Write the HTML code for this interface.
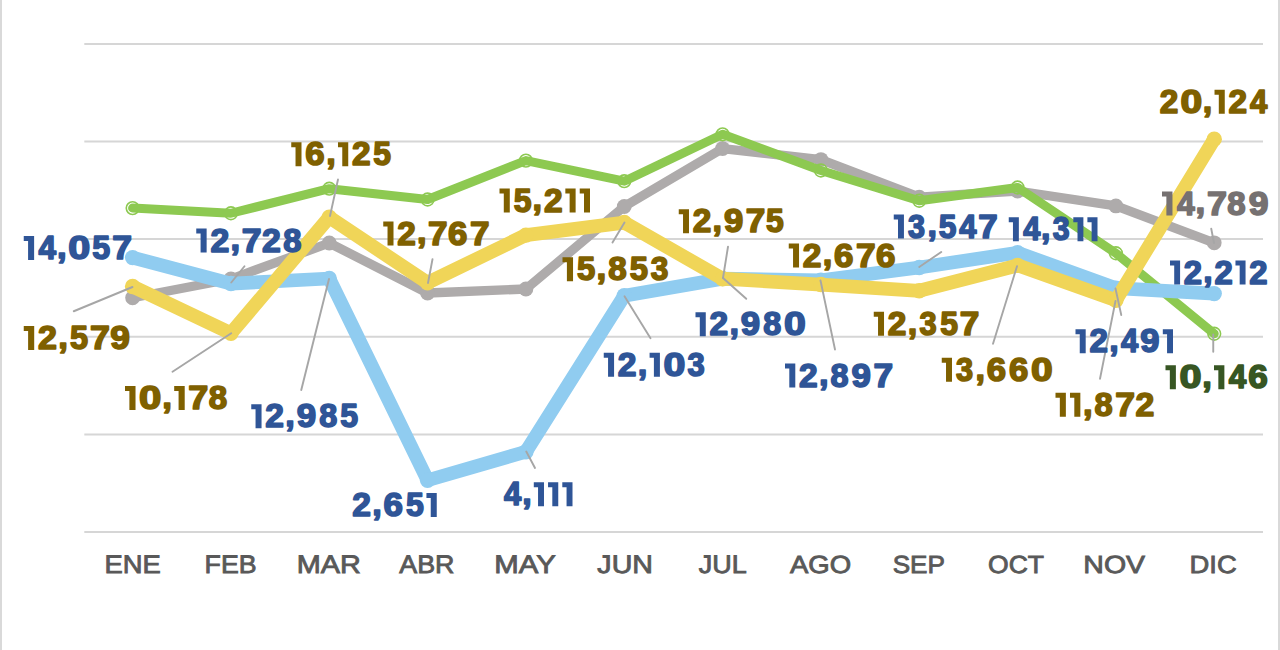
<!DOCTYPE html>
<html><head><meta charset="utf-8"><title>Chart</title>
<style>
html,body{margin:0;padding:0;background:#fff;}
body{width:1280px;height:650px;overflow:hidden;position:relative;font-family:"Liberation Sans",sans-serif;}
#bl,#br{position:absolute;top:0;width:2px;height:650px;background:#d9d9d9;}
#bl{left:0}#br{left:1278px}
svg{position:absolute;left:0;top:0;}
text{font-family:"Liberation Sans",sans-serif;}
.dl{font-weight:bold;}
</style></head><body>
<div id="bl"></div><div id="br"></div>
<svg width="1280" height="650" viewBox="0 0 1280 650">
<g stroke="#d6d6d6" stroke-width="2">
<line x1="84.3" y1="43.9" x2="1263.0" y2="43.9"/>
<line x1="84.3" y1="141.5" x2="1263.0" y2="141.5"/>
<line x1="84.3" y1="239.1" x2="1263.0" y2="239.1"/>
<line x1="84.3" y1="336.8" x2="1263.0" y2="336.8"/>
<line x1="84.3" y1="434.4" x2="1263.0" y2="434.4"/>
<line x1="84.3" y1="532.0" x2="1263.0" y2="532.0"/>
</g>
<g id="grey"><polyline points="132.60,297.80 230.93,279.00 329.26,243.00 427.59,293.00 525.92,289.00 624.25,206.50 722.58,148.60 820.91,159.60 919.24,197.20 1017.57,191.00 1115.90,205.90 1214.23,242.80" fill="none" stroke="#aeabab" stroke-width="9.3" stroke-linejoin="round" stroke-linecap="round"/>
<circle cx="132.60" cy="297.80" r="7.4" fill="#aeabab"/>
<circle cx="230.93" cy="279.00" r="7.4" fill="#aeabab"/>
<circle cx="329.26" cy="243.00" r="7.4" fill="#aeabab"/>
<circle cx="427.59" cy="293.00" r="7.4" fill="#aeabab"/>
<circle cx="525.92" cy="289.00" r="7.4" fill="#aeabab"/>
<circle cx="624.25" cy="206.50" r="7.4" fill="#aeabab"/>
<circle cx="722.58" cy="148.60" r="7.4" fill="#aeabab"/>
<circle cx="820.91" cy="159.60" r="7.4" fill="#aeabab"/>
<circle cx="919.24" cy="197.20" r="7.4" fill="#aeabab"/>
<circle cx="1017.57" cy="191.00" r="7.4" fill="#aeabab"/>
<circle cx="1115.90" cy="205.90" r="7.4" fill="#aeabab"/>
<circle cx="1214.23" cy="242.80" r="7.4" fill="#aeabab"/>
</g>
<g id="green">
<circle cx="132.60" cy="208.10" r="6.35" fill="none" stroke="#8dc951" stroke-width="1.6"/>
<circle cx="230.93" cy="213.25" r="6.35" fill="none" stroke="#8dc951" stroke-width="1.6"/>
<circle cx="329.26" cy="188.70" r="6.35" fill="none" stroke="#8dc951" stroke-width="1.6"/>
<circle cx="427.59" cy="199.50" r="6.35" fill="none" stroke="#8dc951" stroke-width="1.6"/>
<circle cx="525.92" cy="160.60" r="6.35" fill="none" stroke="#8dc951" stroke-width="1.6"/>
<circle cx="624.25" cy="181.20" r="6.35" fill="none" stroke="#8dc951" stroke-width="1.6"/>
<circle cx="722.58" cy="134.30" r="6.35" fill="none" stroke="#8dc951" stroke-width="1.6"/>
<circle cx="820.91" cy="170.50" r="6.35" fill="none" stroke="#8dc951" stroke-width="1.6"/>
<circle cx="919.24" cy="200.75" r="6.35" fill="none" stroke="#8dc951" stroke-width="1.6"/>
<circle cx="1017.57" cy="187.50" r="6.35" fill="none" stroke="#8dc951" stroke-width="1.6"/>
<circle cx="1115.90" cy="253.25" r="6.35" fill="none" stroke="#8dc951" stroke-width="1.6"/>
<circle cx="1214.23" cy="333.75" r="6.35" fill="none" stroke="#8dc951" stroke-width="1.6"/>
<polyline points="132.60,208.10 230.93,213.25 329.26,188.70 427.59,199.50 525.92,160.60 624.25,181.20 722.58,134.30 820.91,170.50 919.24,200.75 1017.57,187.50 1115.90,253.25 1214.23,333.75" fill="none" stroke="#8dc951" stroke-width="9.0" stroke-linejoin="round" stroke-linecap="round"/>
</g>
<g id="blue"><polyline points="132.60,257.61 230.93,283.55 329.26,278.53 427.59,480.25 525.92,451.75 624.25,295.75 722.58,278.63 820.91,280.25 919.24,267.56 1017.57,252.65 1115.90,288.18 1214.23,293.62" fill="none" stroke="#90ccf0" stroke-width="13.7" stroke-linejoin="round" stroke-linecap="round"/>
<circle cx="132.60" cy="257.61" r="7.7" fill="#90ccf0"/>
<circle cx="230.93" cy="283.55" r="7.7" fill="#90ccf0"/>
<circle cx="329.26" cy="278.53" r="7.7" fill="#90ccf0"/>
<circle cx="427.59" cy="480.25" r="7.7" fill="#90ccf0"/>
<circle cx="525.92" cy="451.75" r="7.7" fill="#90ccf0"/>
<circle cx="624.25" cy="295.75" r="7.7" fill="#90ccf0"/>
<circle cx="722.58" cy="278.63" r="7.7" fill="#90ccf0"/>
<circle cx="820.91" cy="280.25" r="7.7" fill="#90ccf0"/>
<circle cx="919.24" cy="267.56" r="7.7" fill="#90ccf0"/>
<circle cx="1017.57" cy="252.65" r="7.7" fill="#90ccf0"/>
<circle cx="1115.90" cy="288.18" r="7.7" fill="#90ccf0"/>
<circle cx="1214.23" cy="293.62" r="7.7" fill="#90ccf0"/>
</g>
<g id="yellow"><polyline points="132.60,286.46 230.93,333.33 329.26,217.24 427.59,282.79 525.92,235.08 624.25,222.55 722.58,278.73 820.91,284.56 919.24,290.79 1017.57,265.36 1115.90,300.26 1214.23,139.18" fill="none" stroke="#f0d558" stroke-width="13.8" stroke-linejoin="round" stroke-linecap="round"/>
<circle cx="132.60" cy="286.46" r="7.7" fill="#f0d558"/>
<circle cx="230.93" cy="333.33" r="7.7" fill="#f0d558"/>
<circle cx="329.26" cy="217.24" r="7.7" fill="#f0d558"/>
<circle cx="427.59" cy="282.79" r="7.7" fill="#f0d558"/>
<circle cx="525.92" cy="235.08" r="7.7" fill="#f0d558"/>
<circle cx="624.25" cy="222.55" r="7.7" fill="#f0d558"/>
<circle cx="722.58" cy="278.73" r="7.7" fill="#f0d558"/>
<circle cx="820.91" cy="284.56" r="7.7" fill="#f0d558"/>
<circle cx="919.24" cy="290.79" r="7.7" fill="#f0d558"/>
<circle cx="1017.57" cy="265.36" r="7.7" fill="#f0d558"/>
<circle cx="1115.90" cy="300.26" r="7.7" fill="#f0d558"/>
<circle cx="1214.23" cy="139.18" r="7.7" fill="#f0d558"/>
</g>
<g id="leaders" stroke="#a6a6a6" stroke-width="1.9" stroke-linecap="round">
<line x1="73.75" y1="311.25" x2="132.5" y2="287"/>
<line x1="244.5" y1="266.25" x2="231.25" y2="282.5"/>
<line x1="172.5" y1="371.75" x2="231.25" y2="333.25"/>
<line x1="301.25" y1="390" x2="329" y2="279"/>
<line x1="338" y1="179.5" x2="330" y2="216"/>
<line x1="432.5" y1="259.25" x2="428" y2="283"/>
<line x1="612.5" y1="242.5" x2="624.5" y2="222.5"/>
<line x1="624.5" y1="296.25" x2="650.5" y2="338.25"/>
<line x1="526.25" y1="451.5" x2="535" y2="468"/>
<line x1="728" y1="246.75" x2="723" y2="278"/>
<line x1="723" y1="278" x2="746.25" y2="298.75"/>
<line x1="820.5" y1="280.5" x2="835" y2="349.5"/>
<line x1="941.25" y1="252" x2="919.25" y2="267"/>
<line x1="1017" y1="266.25" x2="993" y2="343.75"/>
<line x1="1115.5" y1="288.5" x2="1121.25" y2="315"/>
<line x1="1115.5" y1="301" x2="1100" y2="378.75"/>
<line x1="1211.25" y1="228.75" x2="1214" y2="243"/>
<line x1="1213.25" y1="334.5" x2="1213.25" y2="351.75"/>
</g>
<g id="labels" class="dl" stroke-width="1.6" stroke-linejoin="round" font-size="32.6">
<g id="L0" fill="#2f5597" stroke="#2f5597"><path stroke="none" d="M23.75 236.00H34.12V260.00H28.08V240.90H23.75Z"/><text transform="translate(38.55,259.20) scale(0.9668,1)">4</text><text transform="translate(56.99,257.90) scale(1.0610,1)">,</text><text transform="translate(68.22,259.20) scale(1.2129,1)">0</text><text transform="translate(92.28,259.20) scale(0.9889,1)">5</text><text transform="translate(112.17,259.20) scale(1.0906,1)">7</text></g>
<g id="L1" fill="#2f5597" stroke="#2f5597"><path stroke="none" d="M196.25 228.50H206.63V252.50H200.59V233.40H196.25Z"/><text transform="translate(210.42,251.70) scale(1.0376,1)">2</text><text transform="translate(230.54,250.40) scale(1.0622,1)">,</text><text transform="translate(241.72,251.70) scale(1.0919,1)">7</text><text transform="translate(261.89,251.70) scale(1.0376,1)">2</text><text transform="translate(283.27,251.70) scale(1.0029,1)">8</text></g>
<g id="L2" fill="#2f5597" stroke="#2f5597"><path stroke="none" d="M251.25 404.25H261.55V428.25H255.55V409.15H251.25Z"/><text transform="translate(265.31,427.45) scale(1.0292,1)">2</text><text transform="translate(285.26,426.15) scale(1.0536,1)">,</text><text transform="translate(296.65,427.45) scale(1.0695,1)">9</text><text transform="translate(319.17,427.45) scale(0.9947,1)">8</text><text transform="translate(340.30,427.45) scale(0.9820,1)">5</text></g>
<g id="L3" fill="#2f5597" stroke="#2f5597"><text transform="translate(352.16,516.20) scale(1.0304,1)">2</text><text transform="translate(372.13,514.90) scale(1.0549,1)">,</text><text transform="translate(383.46,516.20) scale(1.0728,1)">6</text><text transform="translate(406.01,516.20) scale(0.9832,1)">5</text><path stroke="none" d="M426.44 493.00H436.75V517.00H430.74V497.90H426.44Z"/></g>
<g id="L4" fill="#2f5597" stroke="#2f5597"><text transform="translate(504.04,505.45) scale(0.9503,1)">4</text><text transform="translate(522.17,504.15) scale(1.0430,1)">,</text><path stroke="none" d="M533.79 482.25H543.99V506.25H538.05V487.15H533.79Z"/><path stroke="none" d="M548.05 482.25H558.25V506.25H552.31V487.15H548.05Z"/><path stroke="none" d="M562.30 482.25H572.50V506.25H566.56V487.15H562.30Z"/></g>
<g id="L5" fill="#2f5597" stroke="#2f5597"><path stroke="none" d="M603.75 352.75H614.07V376.75H608.06V357.65H603.75Z"/><text transform="translate(617.84,375.95) scale(1.0312,1)">2</text><text transform="translate(637.83,374.65) scale(1.0557,1)">,</text><path stroke="none" d="M649.59 352.75H659.91V376.75H653.90V357.65H649.59Z"/><text transform="translate(663.43,375.95) scale(1.2068,1)">0</text><text transform="translate(687.62,375.95) scale(0.9511,1)">3</text></g>
<g id="L6" fill="#2f5597" stroke="#2f5597"><path stroke="none" d="M695.50 312.25H705.77V336.25H699.79V317.15H695.50Z"/><text transform="translate(709.52,335.45) scale(1.0259,1)">2</text><text transform="translate(729.40,334.15) scale(1.0503,1)">,</text><text transform="translate(740.75,335.45) scale(1.0661,1)">9</text><text transform="translate(763.20,335.45) scale(0.9916,1)">8</text><text transform="translate(783.88,335.45) scale(1.2006,1)">0</text></g>
<g id="L7" fill="#2f5597" stroke="#2f5597"><path stroke="none" d="M785.00 363.50H795.30V387.50H789.30V368.40H785.00Z"/><text transform="translate(799.05,386.70) scale(1.0287,1)">2</text><text transform="translate(819.00,385.40) scale(1.0532,1)">,</text><text transform="translate(830.50,386.70) scale(0.9943,1)">8</text><text transform="translate(851.47,386.70) scale(1.0690,1)">9</text><text transform="translate(873.56,386.70) scale(1.0825,1)">7</text></g>
<g id="L8" fill="#2f5597" stroke="#2f5597"><path stroke="none" d="M893.75 214.50H903.94V238.50H898.00V219.40H893.75Z"/><text transform="translate(908.05,237.70) scale(0.9392,1)">3</text><text transform="translate(927.40,236.40) scale(1.0425,1)">,</text><text transform="translate(938.82,237.70) scale(0.9717,1)">5</text><text transform="translate(959.30,237.70) scale(0.9499,1)">4</text><text transform="translate(978.25,237.70) scale(1.0716,1)">7</text></g>
<g id="L9" fill="#2f5597" stroke="#2f5597"><path stroke="none" d="M1008.75 217.25H1018.85V241.25H1012.96V222.15H1008.75Z"/><text transform="translate(1023.15,240.45) scale(0.9409,1)">4</text><text transform="translate(1041.11,239.15) scale(1.0327,1)">,</text><text transform="translate(1052.66,240.45) scale(0.9303,1)">3</text><path stroke="none" d="M1073.29 217.25H1083.39V241.25H1077.51V222.15H1073.29Z"/><path stroke="none" d="M1087.40 217.25H1097.50V241.25H1091.62V222.15H1087.40Z"/></g>
<g id="L10" fill="#2f5597" stroke="#2f5597"><path stroke="none" d="M1075.50 329.25H1085.69V353.25H1079.75V334.15H1075.50Z"/><text transform="translate(1089.41,352.45) scale(1.0182,1)">2</text><text transform="translate(1109.15,351.15) scale(1.0424,1)">,</text><text transform="translate(1121.05,352.45) scale(0.9498,1)">4</text><text transform="translate(1140.30,352.45) scale(1.0581,1)">9</text><path stroke="none" d="M1162.81 329.25H1173.00V353.25H1167.06V334.15H1162.81Z"/></g>
<g id="L11" fill="#2f5597" stroke="#2f5597"><path stroke="none" d="M1170.00 260.50H1180.09V284.50H1174.21V265.40H1170.00Z"/><text transform="translate(1183.77,283.70) scale(1.0079,1)">2</text><text transform="translate(1203.31,282.40) scale(1.0318,1)">,</text><text transform="translate(1214.47,283.70) scale(1.0079,1)">2</text><path stroke="none" d="M1235.47 260.50H1245.55V284.50H1239.68V265.40H1235.47Z"/><text transform="translate(1249.24,283.70) scale(1.0079,1)">2</text></g>
<g id="L12" fill="#7f6000" stroke="#7f6000"><path stroke="none" d="M23.75 326.00H34.20V350.00H28.11V330.90H23.75Z"/><text transform="translate(38.01,349.20) scale(1.0440,1)">2</text><text transform="translate(58.25,347.90) scale(1.0688,1)">,</text><text transform="translate(69.96,349.20) scale(0.9961,1)">5</text><text transform="translate(89.99,349.20) scale(1.0986,1)">7</text><text transform="translate(110.27,349.20) scale(1.0849,1)">9</text></g>
<g id="L13" fill="#7f6000" stroke="#7f6000"><path stroke="none" d="M125.00 386.00H135.52V410.00H129.39V390.90H125.00Z"/><text transform="translate(139.11,409.20) scale(1.2303,1)">0</text><text transform="translate(162.20,407.90) scale(1.0763,1)">,</text><path stroke="none" d="M174.19 386.00H184.71V410.00H178.58V390.90H174.19Z"/><text transform="translate(188.23,409.20) scale(1.1063,1)">7</text><text transform="translate(208.78,409.20) scale(1.0162,1)">8</text></g>
<g id="L14" fill="#7f6000" stroke="#7f6000"><path stroke="none" d="M291.25 142.25H301.50V166.25H295.53V147.15H291.25Z"/><text transform="translate(305.17,165.45) scale(1.0667,1)">6</text><text transform="translate(326.30,164.15) scale(1.0489,1)">,</text><path stroke="none" d="M337.99 142.25H348.24V166.25H342.27V147.15H337.99Z"/><text transform="translate(351.99,165.45) scale(1.0246,1)">2</text><text transform="translate(373.13,165.45) scale(0.9776,1)">5</text></g>
<g id="L15" fill="#7f6000" stroke="#7f6000"><path stroke="none" d="M383.25 221.50H393.50V245.50H387.53V226.40H383.25Z"/><text transform="translate(397.24,244.70) scale(1.0239,1)">2</text><text transform="translate(417.09,243.40) scale(1.0482,1)">,</text><text transform="translate(428.12,244.70) scale(1.0774,1)">7</text><text transform="translate(447.94,244.70) scale(1.0659,1)">6</text><text transform="translate(469.90,244.70) scale(1.0774,1)">7</text></g>
<g id="L16" fill="#7f6000" stroke="#7f6000"><path stroke="none" d="M499.50 188.50H509.78V212.50H503.79V193.40H499.50Z"/><text transform="translate(513.68,211.70) scale(0.9804,1)">5</text><text transform="translate(532.56,210.40) scale(1.0519,1)">,</text><text transform="translate(543.94,211.70) scale(1.0275,1)">2</text><path stroke="none" d="M565.34 188.50H575.62V212.50H569.63V193.40H565.34Z"/><path stroke="none" d="M579.72 188.50H590.00V212.50H584.01V193.40H579.72Z"/></g>
<g id="L17" fill="#7f6000" stroke="#7f6000"><path stroke="none" d="M562.50 257.25H573.04V281.25H566.90V262.15H562.50Z"/><text transform="translate(577.04,280.45) scale(1.0054,1)">5</text><text transform="translate(596.40,279.15) scale(1.0787,1)">,</text><text transform="translate(608.18,280.45) scale(1.0184,1)">8</text><text transform="translate(629.81,280.45) scale(1.0054,1)">5</text><text transform="translate(650.75,280.45) scale(0.9718,1)">3</text></g>
<g id="L18" fill="#7f6000" stroke="#7f6000"><path stroke="none" d="M678.75 209.25H688.99V233.25H683.03V214.15H678.75Z"/><text transform="translate(692.73,232.45) scale(1.0233,1)">2</text><text transform="translate(712.57,231.15) scale(1.0476,1)">,</text><text transform="translate(723.89,232.45) scale(1.0635,1)">9</text><text transform="translate(745.86,232.45) scale(1.0769,1)">7</text><text transform="translate(765.90,232.45) scale(0.9764,1)">5</text></g>
<g id="L19" fill="#7f6000" stroke="#7f6000"><path stroke="none" d="M788.75 243.50H799.04V267.50H793.05V248.40H788.75Z"/><text transform="translate(802.80,266.70) scale(1.0282,1)">2</text><text transform="translate(822.73,265.40) scale(1.0527,1)">,</text><text transform="translate(834.04,266.70) scale(1.0705,1)">6</text><text transform="translate(856.09,266.70) scale(1.0820,1)">7</text><text transform="translate(876.00,266.70) scale(1.0705,1)">6</text></g>
<g id="L20" fill="#7f6000" stroke="#7f6000"><path stroke="none" d="M873.75 311.75H884.02V335.75H878.04V316.65H873.75Z"/><text transform="translate(887.76,334.95) scale(1.0258,1)">2</text><text transform="translate(907.65,333.65) scale(1.0501,1)">,</text><text transform="translate(919.40,334.95) scale(0.9460,1)">3</text><text transform="translate(940.18,334.95) scale(0.9788,1)">5</text><text transform="translate(959.86,334.95) scale(1.0794,1)">7</text></g>
<g id="L21" fill="#7f6000" stroke="#7f6000"><path stroke="none" d="M941.75 357.75H951.99V381.75H946.02V362.65H941.75Z"/><text transform="translate(956.11,380.95) scale(0.9432,1)">3</text><text transform="translate(975.55,379.65) scale(1.0470,1)">,</text><text transform="translate(986.79,380.95) scale(1.0647,1)">6</text><text transform="translate(1008.95,380.95) scale(1.0647,1)">6</text><text transform="translate(1030.94,380.95) scale(1.1968,1)">0</text></g>
<g id="L22" fill="#7f6000" stroke="#7f6000"><path stroke="none" d="M1055.50 392.75H1065.86V416.75H1059.83V397.65H1055.50Z"/><path stroke="none" d="M1069.99 392.75H1080.35V416.75H1074.31V397.65H1069.99Z"/><text transform="translate(1082.98,414.65) scale(1.0601,1)">,</text><text transform="translate(1094.56,415.95) scale(1.0009,1)">8</text><text transform="translate(1115.36,415.95) scale(1.0897,1)">7</text><text transform="translate(1135.50,415.95) scale(1.0355,1)">2</text></g>
<g id="L23" fill="#7f6000" stroke="#7f6000"><text transform="translate(1159.66,112.95) scale(1.0230,1)">2</text><text transform="translate(1180.39,112.95) scale(1.1972,1)">0</text><text transform="translate(1202.85,111.65) scale(1.0473,1)">,</text><path stroke="none" d="M1214.52 89.75H1224.76V113.75H1218.80V94.65H1214.52Z"/><text transform="translate(1228.50,112.95) scale(1.0230,1)">2</text><text transform="translate(1250.10,112.95) scale(0.9543,1)">4</text></g>
<g id="L24" fill="#767171" stroke="#767171"><path stroke="none" d="M1162.00 191.50H1172.48V215.50H1166.38V196.40H1162.00Z"/><text transform="translate(1176.96,214.70) scale(0.9771,1)">4</text><text transform="translate(1195.60,213.40) scale(1.0724,1)">,</text><text transform="translate(1206.88,214.70) scale(1.1023,1)">7</text><text transform="translate(1227.36,214.70) scale(1.0124,1)">8</text><text transform="translate(1248.71,214.70) scale(1.0885,1)">9</text></g>
<g id="L25" fill="#375623" stroke="#375623"><path stroke="none" d="M1165.50 365.25H1175.88V389.25H1169.83V370.15H1165.50Z"/><text transform="translate(1179.41,388.45) scale(1.2133,1)">0</text><text transform="translate(1202.18,387.15) scale(1.0615,1)">,</text><path stroke="none" d="M1214.01 365.25H1224.38V389.25H1218.34V370.15H1214.01Z"/><text transform="translate(1228.81,388.45) scale(0.9671,1)">4</text><text transform="translate(1248.34,388.45) scale(1.0794,1)">6</text></g>
</g>
<g id="axis" text-rendering="geometricPrecision" fill="#595959" stroke="#595959" stroke-width="0.85">
<text id="A0" x="104.57" y="573.31" font-size="25.37" textLength="56.30" lengthAdjust="spacingAndGlyphs">ENE</text>
<text id="A1" x="204.59" y="573.31" font-size="25.37" textLength="51.99" lengthAdjust="spacingAndGlyphs">FEB</text>
<text id="A2" x="296.81" y="573.31" font-size="25.37" textLength="64.08" lengthAdjust="spacingAndGlyphs">MAR</text>
<text id="A3" x="399.24" y="573.31" font-size="25.37" textLength="55.22" lengthAdjust="spacingAndGlyphs">ABR</text>
<text id="A4" x="494.33" y="573.31" font-size="25.37" textLength="61.42" lengthAdjust="spacingAndGlyphs">MAY</text>
<text id="A5" x="597.35" y="573.31" font-size="25.37" textLength="55.56" lengthAdjust="spacingAndGlyphs">JUN</text>
<text id="A6" x="698.75" y="573.31" font-size="25.37" textLength="47.96" lengthAdjust="spacingAndGlyphs">JUL</text>
<text id="A7" x="789.92" y="573.32" font-size="24.68" textLength="61.17" lengthAdjust="spacingAndGlyphs">AGO</text>
<text id="A8" x="892.73" y="573.32" font-size="24.68" textLength="52.21" lengthAdjust="spacingAndGlyphs">SEP</text>
<text id="A9" x="988.05" y="573.32" font-size="24.68" textLength="55.94" lengthAdjust="spacingAndGlyphs">OCT</text>
<text id="A10" x="1083.32" y="573.32" font-size="24.68" textLength="61.74" lengthAdjust="spacingAndGlyphs">NOV</text>
<text id="A11" x="1189.57" y="573.32" font-size="24.68" textLength="47.16" lengthAdjust="spacingAndGlyphs">DIC</text>
</g>
</svg>
</body></html>
